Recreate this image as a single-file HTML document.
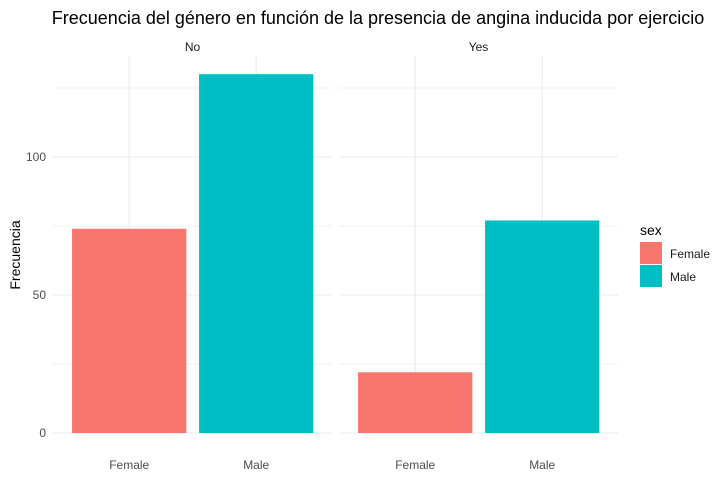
<!DOCTYPE html>
<html><head><meta charset="utf-8"><style>
body{margin:0;background:#fff;width:727px;height:496px;overflow:hidden;font-family:"Liberation Sans",sans-serif}
</style></head><body>
<svg width="727" height="496" id="svg" xmlns="http://www.w3.org/2000/svg">
<text x="378" y="24" font-size="18" text-anchor="middle" fill="#000">Frecuencia del género en función de la presencia de angina inducida por ejercicio</text>
<text transform="translate(20,255) rotate(-90)" font-size="14" text-anchor="middle" fill="#000">Frecuencia</text>
<text x="640" y="235" font-size="14" fill="#000">sex</text>
<rect x="640" y="242" width="22" height="22" fill="#F8766D"/>
<text x="670" y="258" font-size="12" fill="#1a1a1a">Female</text>
<rect x="640" y="265" width="22" height="22" fill="#00BFC4"/>
<text x="670" y="281" font-size="12" fill="#1a1a1a">Male</text>
</svg>
<script>
const panels=["No","Yes"];
const categories=["Female","Male"];
const femaleValues=[74,22];
const maleValues=[130,77];
const yTicks=[0,50,100];
const colors={Female:"#F8766D",Male:"#00BFC4"};
const svgEl=document.getElementById('svg');
const NS="http://www.w3.org/2000/svg";
const y0=433, pxPer=2.76, plotTop=56;
const yS=v=>y0-v*pxPer;
const panelLeft=[53,339], panelW=279, step=127;
function mk(t,a){const e=document.createElementNS(NS,t);for(const k in a)e.setAttribute(k,a[k]);svgEl.appendChild(e);return e;}
panels.forEach((p,pi)=>{
  const L=panelLeft[pi];
  const xS=i=>L+0.6*step+i*step;
  for(let i=0;i<yTicks.length;i++){const v=yTicks[i]+25;if(yS(v)<plotTop)continue;
    const g=mk('line',{x1:L,x2:L+panelW,y1:yS(v),y2:yS(v),stroke:'#f2f2f2','stroke-width':1});
    
    }
  yTicks.forEach(v=>{const g=mk('line',{x1:L,x2:L+panelW,y1:yS(v),y2:yS(v),stroke:'#ebebeb','stroke-width':1.1});
    
    });
  categories.forEach((c,i)=>{const g=mk('line',{x1:xS(i),x2:xS(i),y1:plotTop,y2:y0,stroke:'#ebebeb','stroke-width':1.1});
    
    });
  const vals=[femaleValues[pi],maleValues[pi]];
  categories.forEach((c,i)=>{const w=step*0.9;
    const r=mk('rect',{x:xS(i)-w/2,y:yS(vals[i]),width:w,height:y0-yS(vals[i]),fill:colors[c]});
    
    
    const t=mk('text',{x:xS(i),y:469,'font-size':12,'text-anchor':'middle',fill:'#4d4d4d'});t.textContent=c;
    
    });
  const s=mk('text',{x:L+panelW/2,y:51,'font-size':12,'text-anchor':'middle',fill:'#1a1a1a'});s.textContent=p;
  
  
});
yTicks.forEach(v=>{const t=mk('text',{x:46,y:yS(v)+4,'font-size':12,'text-anchor':'end',fill:'#4d4d4d'});t.textContent=v;
  
  });
</script>
</body></html>
